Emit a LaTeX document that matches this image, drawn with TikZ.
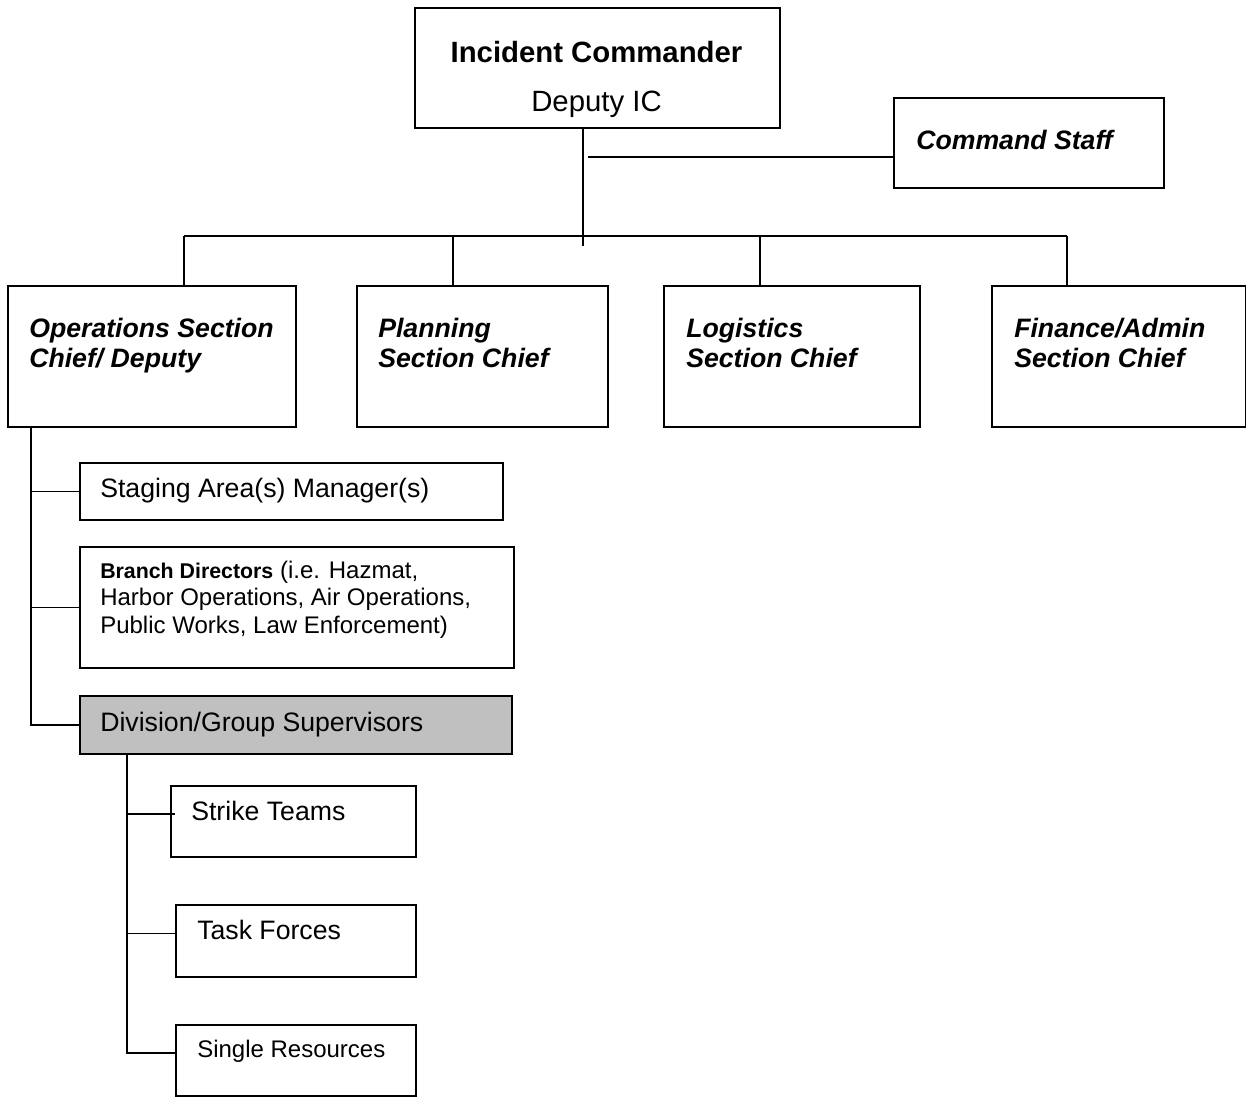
\documentclass[tikz,border=0pt]{standalone}
\usepackage{fontspec}
\setmainfont{Liberation Sans}
\begin{document}
\begin{tikzpicture}[x=0.75pt,y=-0.75pt,
  orgbox/.style={draw=black, line width=1.2pt, inner sep=0pt, anchor=north west},
  wire/.style={draw=black, line width=1.2pt},
  lbl/.style={anchor=base west, inner sep=0pt, align=left},
  headtxt/.style={anchor=base, inner sep=0pt},
  secttxt/.style={lbl, font=\fontsize{20}{22.5}\selectfont\bfseries\itshape},
  plaintxt/.style={lbl, font=\fontsize{20}{22.5}\selectfont},
  smalltxt/.style={lbl, font=\fontsize{18}{20.6}\selectfont}]
\useasboundingbox (0,0) rectangle (1246,1097);
\newcommand\orgrect[6][]{\node[orgbox,#1, minimum width={(#5-#3)*0.75pt}, minimum height={(#6-#4)*0.75pt}] (#2) at (#3,#4) {};}

% boxes
\orgrect{ic}{414}{7}{779}{127}
\orgrect{cs}{893}{97}{1163}{187}
\orgrect{ops}{7}{285}{295}{426}
\orgrect{plan}{356}{285}{607}{426}
\orgrect{logi}{663}{285}{919}{426}
\orgrect{fin}{991}{285}{1245}{426}
\orgrect{stg}{79}{462}{502}{519}
\orgrect{br}{79}{546}{513}{667}
\orgrect[fill={rgb,255:red,192;green,192;blue,192}]{div}{79}{695}{511}{753}
\orgrect{st}{170}{785}{415}{856}
\orgrect{tf}{175}{904}{415}{976}
\orgrect{sr}{175}{1024}{415}{1095}

% labels (multi-line labels sit on the baseline of their last line)
\node[headtxt, font=\fontsize{22}{26}\selectfont\bfseries] (ic-a) at (596.5,62) {Incident Commander};
\node[headtxt, font=\fontsize{22}{26}\selectfont] (ic-b) at (596.5,111) {Deputy IC};
\node[secttxt] (cs-t) at (916,149) {Command Staff};
\node[secttxt] (ops-t) at (29,367) {Operations Section\\Chief/ Deputy};
\node[secttxt] (plan-t) at (378,367) {Planning\\Section Chief};
\node[secttxt] (logi-t) at (686,367) {Logistics\\Section Chief};
\node[secttxt] (fin-t) at (1014,367) {Finance/Admin\\Section Chief};
\node[plaintxt] (stg-t) at (100,497) {Staging Area(s) Manager(s)};
\node[smalltxt] (br-t) at (100,633) {{\fontsize{16}{20.6}\selectfont\bfseries Branch Directors} (i.e. Hazmat,\\Harbor Operations, Air Operations,\\Public Works, Law Enforcement)};
\node[plaintxt] (div-t) at (100,731) {Division/Group Supervisors};
\node[plaintxt] (st-t) at (191,820) {Strike Teams};
\node[plaintxt] (tf-t) at (197,939) {Task Forces};
\node[smalltxt] (sr-t) at (197,1057) {Single Resources};

% command line
\coordinate (icdrop) at (583,127);
\coordinate (icend) at (583,246);
\draw[wire] (icdrop) -- (icend);
\coordinate (csj) at (588,157);
\draw[wire] (csj) -- (csj -| cs.west);

% section bus
\coordinate (b1) at (184,236);
\coordinate (b2) at (453,236);
\coordinate (b3) at (760,236);
\coordinate (b4) at (1067,236);
\draw[wire] (b1) -- (b4);
\draw[wire] (b1) -- (b1 |- ops.north);
\draw[wire] (b2) -- (b2 |- plan.north);
\draw[wire] (b3) -- (b3 |- logi.north);
\draw[wire] (b4) -- (b4 |- fin.north);

% operations branch
\coordinate (ot) at (31,426);
\draw[wire] (ot) |- (div.west);
\draw[wire] (ot |- stg.west) -- (stg.west);
\draw[wire] (ot |- br.west) -- (br.west);

% division/group branch
\coordinate (dt) at (127,753);
\draw[wire] (dt) |- ([yshift=5.5pt]sr.west);
\draw[wire] ([yshift=5.5pt]tf.west) -- ++(-48,0);
\draw[wire] ([xshift=3.75pt,yshift=5.5pt]st.west) -- ++(-48,0);
\end{tikzpicture}
\end{document}
